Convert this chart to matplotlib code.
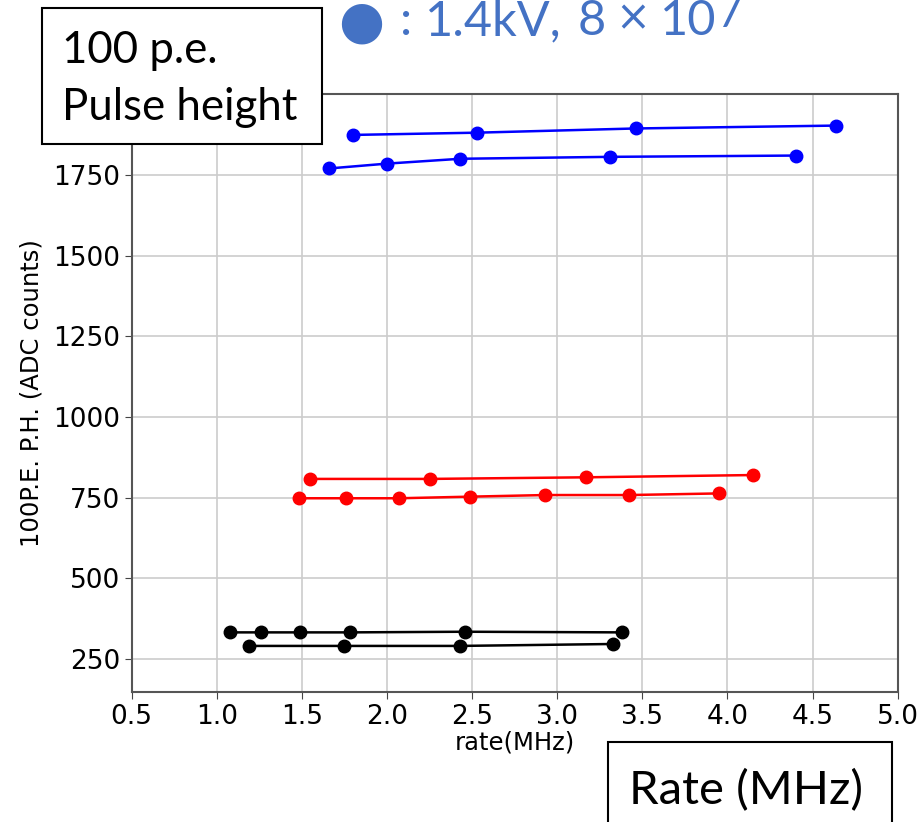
import matplotlib
matplotlib.use('Agg')
import matplotlib.pyplot as plt
from matplotlib.patches import Rectangle

# ---- data ----
blue_a_x = [1.80, 2.53, 3.46, 4.64]
blue_a_y = [1875, 1882, 1895, 1904]
blue_b_x = [1.66, 2.00, 2.43, 3.31, 4.40]
blue_b_y = [1771, 1786, 1801, 1807, 1811]
red_a_x = [1.55, 2.25, 3.17, 4.15]
red_a_y = [808, 808, 813, 820]
red_b_x = [1.48, 1.76, 2.07, 2.49, 2.93, 3.42, 3.95]
red_b_y = [748, 748, 748, 753, 758, 758, 763]
black_a_x = [1.08, 1.26, 1.49, 1.78, 2.46, 3.38]
black_a_y = [332, 332, 332, 332, 334, 332]
black_b_x = [1.19, 1.75, 2.43, 3.33]
black_b_y = [290, 290, 290, 296]

x_ticks = [0.5, 1.0, 1.5, 2.0, 2.5, 3.0, 3.5, 4.0, 4.5, 5.0]
y_ticks = [250, 500, 750, 1000, 1250, 1500, 1750]

W, H = 923, 822
fig = plt.figure(figsize=(W / 100, H / 100), dpi=100)

def fx(px):
    return px / W

def fy(py):
    return 1 - py / H

ax = fig.add_axes([fx(131.7), fy(691.7), (897.7 - 131.7) / W, (691.7 - 94.3) / H])

series = [
    (blue_a_x, blue_a_y, 'blue'),
    (blue_b_x, blue_b_y, 'blue'),
    (red_a_x, red_a_y, 'red'),
    (red_b_x, red_b_y, 'red'),
    (black_a_x, black_a_y, 'black'),
    (black_b_x, black_b_y, 'black'),
]
for xs, ys, c in series:
    ax.plot(xs, ys, '-o', color=c, lw=1.8, ms=9, zorder=3)

ax.set_xlim(0.5, 5.0)
ax.set_ylim(148, 2001)
ax.set_xticks(x_ticks)
ax.set_yticks(y_ticks)
ax.tick_params(labelsize=19, length=5, color='#444444')
ax.grid(True, color='#cccccc', lw=1.2)
ax.set_axisbelow(True)
for s in ax.spines.values():
    s.set_color('#555555')
    s.set_linewidth(1.5)
ax.set_xlabel('rate(MHz)', fontsize=17.5, labelpad=1)
ax.set_ylabel('100P.E. P.H. (ADC counts)', fontsize=17.5, labelpad=7)

# ---- overlay annotations ----
fig.patches.append(Rectangle((fx(42), fy(144)), (322 - 42) / W, (144 - 8) / H,
                             transform=fig.transFigure, fill=True, fc='white',
                             ec='black', lw=1.5, zorder=5))
fig.text(fx(62), fy(63), '100 p.e.', fontsize=31.5, family='Lato', va='baseline', zorder=6)
fig.text(fx(62), fy(120), 'Pulse height', fontsize=31.5, family='Lato', va='baseline', zorder=6)

fig.patches.append(Rectangle((fx(607.7), fy(830)), (891.7 - 607.7) / W, (830 - 741.7) / H,
                             transform=fig.transFigure, fill=True, fc='white',
                             ec='black', lw=1.5, zorder=5))
fig.text(fx(629), fy(804), 'Rate (MHz)', fontsize=34, family='Lato', va='baseline', zorder=6)

tc = '#4472C4'
fig.text(fx(338), fy(38), '\u25CF', fontsize=38, family='DejaVu Sans', color=tc, va='baseline')
fig.text(fx(400), fy(35), ':', fontsize=35, family='Lato', color=tc, va='baseline')
fig.text(fx(425), fy(35), '1.4kV,', fontsize=35, family='Lato', color=tc, va='baseline')
fig.text(fx(578), fy(35), '8', fontsize=35, family='Lato', color=tc, va='baseline')
fig.text(fx(633), fy(18), '\u00D7', fontsize=30, family='DejaVu Sans', color=tc,
         va='center', ha='center')
fig.text(fx(660), fy(35), '10', fontsize=35, family='Lato', color=tc, va='baseline')
fig.text(fx(718), fy(27), '7', fontsize=30, family='Lato', color=tc, va='baseline')

fig.savefig('out.png', dpi=100)
